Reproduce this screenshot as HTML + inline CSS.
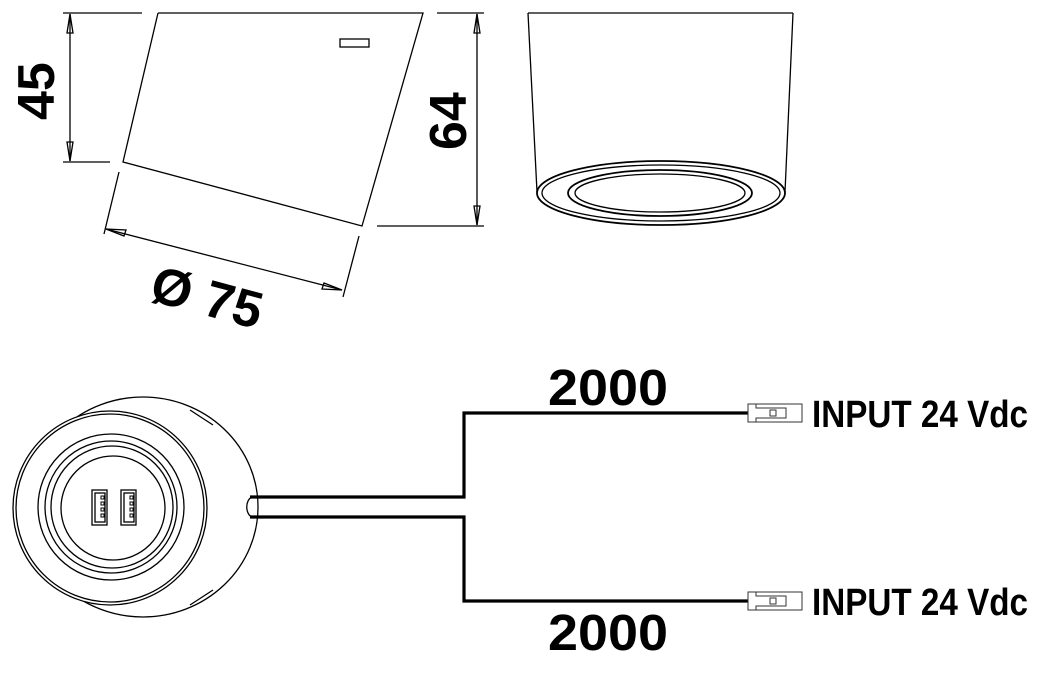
<!DOCTYPE html>
<html><head><meta charset="utf-8"><style>
html,body{margin:0;padding:0;background:#fff;}
svg{display:block;}
text{font-family:"Liberation Sans",sans-serif;font-weight:bold;fill:#000;}
</style></head><body>
<svg width="1048" height="676" viewBox="0 0 1048 676" xmlns="http://www.w3.org/2000/svg">
<g fill="none" stroke="#000" stroke-width="1.3">
  <polyline points="158,13 423,13 362,226 123,162 158,13"/>
  <rect x="340" y="39" width="29" height="8"/>
  <line x1="63" y1="13" x2="142" y2="13"/>
  <line x1="63" y1="162" x2="110" y2="162"/>
  <line x1="70" y1="14" x2="70" y2="161"/>
  <polygon points="70,14 67,33 73,33"/>
  <polygon points="70,161 67,142 73,142"/>
  <line x1="437" y1="13" x2="484" y2="13"/>
  <line x1="377" y1="226" x2="484" y2="226"/>
  <line x1="477" y1="14" x2="477" y2="225"/>
  <polygon points="477,14 474,33 480,33"/>
  <polygon points="477,225 474,206 480,206"/>
  <line x1="119" y1="172" x2="104" y2="234"/>
  <line x1="359" y1="236" x2="343" y2="297"/>
  <line x1="106" y1="229" x2="342" y2="290"/>
  <polygon points="106,229 126,230 124,236"/>
  <polygon points="342,290 324,283 322,289"/>
  <line x1="528" y1="13" x2="793" y2="13"/>
  <line x1="528" y1="13" x2="537" y2="192"/>
  <line x1="793" y1="13" x2="785" y2="192"/>
  <ellipse cx="661" cy="193" rx="124" ry="32" stroke-width="1.8"/>
  <ellipse cx="661" cy="193" rx="119" ry="28"/>
  <ellipse cx="660" cy="193" rx="92" ry="23" stroke-width="1.8"/>
  <ellipse cx="660" cy="193" rx="85" ry="19"/>
  <!-- bottom device body -->
  <ellipse cx="143" cy="507" rx="115" ry="110"/>
  <circle cx="110" cy="508" r="97" fill="#fff"/>
  <circle cx="110" cy="508" r="94"/>
  <circle cx="111" cy="507" r="73"/>
  <circle cx="111" cy="507" r="66"/>
  <circle cx="112" cy="507" r="61"/>
  <circle cx="113" cy="508" r="52"/>
  <line x1="190" y1="410" x2="213" y2="425"/>
  <line x1="190" y1="605" x2="213" y2="590"/>
  <rect x="92" y="490" width="15" height="35"/>
  <rect x="95" y="493" width="10" height="29"/>
  <rect x="121" y="490" width="15" height="35"/>
  <rect x="124" y="493" width="10" height="29"/>
  <g stroke-width="1">
    <rect x="101" y="496" width="3" height="3"/><rect x="101" y="502" width="3" height="3"/><rect x="101" y="508" width="3" height="3"/><rect x="101" y="514" width="3" height="3"/>
    <rect x="130" y="496" width="3" height="3"/><rect x="130" y="502" width="3" height="3"/><rect x="130" y="508" width="3" height="3"/><rect x="130" y="514" width="3" height="3"/>
  </g>
  <path d="M252,497 C245,500 245,514 252,517"/>
</g>
<g fill="none" stroke="#000" stroke-width="3.2">
  <polyline points="250,497 464,497 464,413 748,413"/>
  <polyline points="250,517 464,517 464,601 748,601"/>
</g>
<g fill="none" stroke="#333" stroke-width="1">
  <rect x="748" y="404" width="54" height="18"/>
  <polyline points="756,404 756,408 786,408 786,418 756,418 756,422"/>
  <rect x="770" y="410" width="6" height="6"/>
  <rect x="748" y="592" width="54" height="18"/>
  <polyline points="756,592 756,596 786,596 786,606 756,606 756,610"/>
  <rect x="770" y="598" width="6" height="6"/>
</g>
<text x="812" y="427" font-size="38" textLength="216" lengthAdjust="spacingAndGlyphs">INPUT 24 Vdc</text>
<text x="812" y="615" font-size="38" textLength="216" lengthAdjust="spacingAndGlyphs">INPUT 24 Vdc</text>
<text x="548" y="405" font-size="51" textLength="120" lengthAdjust="spacingAndGlyphs">2000</text>
<text x="548" y="650" font-size="51" textLength="120" lengthAdjust="spacingAndGlyphs">2000</text>
<text transform="translate(54,120) rotate(-90)" font-size="52">45</text>
<text transform="translate(466,150) rotate(-90)" font-size="52">64</text>
<text transform="translate(148,300) rotate(15)" font-size="52">Ø 75</text>
</svg>
</body></html>
